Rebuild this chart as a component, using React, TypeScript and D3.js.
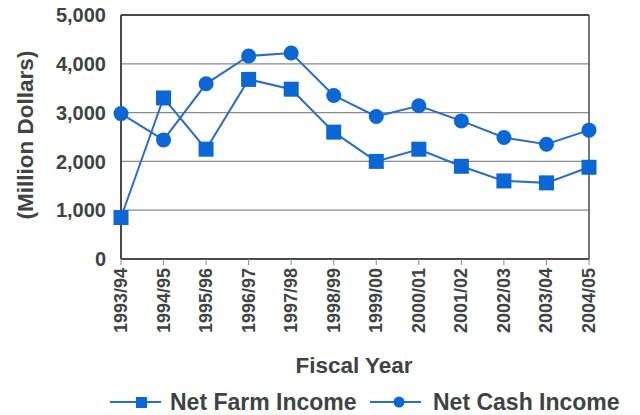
import React from "react";
import * as d3 from "d3";

const categories = ["1993/94","1994/95","1995/96","1996/97","1997/98","1998/99","1999/00","2000/01","2001/02","2002/03","2003/04","2004/05"];
const netFarmIncome = [850, 3300, 2250, 3680, 3480, 2600, 2000, 2250, 1900, 1600, 1560, 1880];
const netCashIncome = [2980, 2440, 3590, 4160, 4220, 3350, 2920, 3140, 2830, 2490, 2350, 2640];
const yTicks = [0, 1000, 2000, 3000, 4000, 5000];

const W = 640, H = 415;
const M = { left: 121, right: 589, top: 15, bottom: 259 };
const BLUE = "#0b66d6";
const LINE = "#2a6cc9";
const TEXT = "#3d4444";
const FONT = "'Liberation Sans', Arial, Helvetica, sans-serif";

export default function App() {
  const x = d3.scalePoint<string>().domain(categories).range([M.left, M.right]);
  const y = d3.scaleLinear().domain([0, 5000]).range([M.bottom, M.top]);
  const line = d3.line<number>().x((_, i) => x(categories[i])!).y(d => y(d));
  const fmt = d3.format(",");
  const sq = 15;

  return (
    <svg width={W} height={H} style={{ position: "absolute", left: 0, top: 0, display: "block", background: "#fff" }} fontFamily={FONT}>
      {/* gridlines */}
      {yTicks.map(t => (
        <line key={t} x1={M.left} x2={M.right} y1={y(t)} y2={y(t)} stroke={t === 0 || t === 5000 ? "#4a4a4a" : "#8a8a8a"} strokeWidth={t === 0 || t === 5000 ? 2 : 1.2} />
      ))}
      <line x1={M.left} x2={M.left} y1={M.top} y2={M.bottom} stroke="#4a4a4a" strokeWidth={2} />
      <line x1={M.right} x2={M.right} y1={M.top} y2={M.bottom} stroke="#4a4a4a" strokeWidth={1.5} />
      {/* x ticks */}
      {categories.map(c => (
        <line key={c} x1={x(c)} x2={x(c)} y1={M.bottom} y2={M.bottom + 6} stroke="#8a8a8a" strokeWidth={1} />
      ))}
      {/* y tick labels */}
      {yTicks.map(t => (
        <text key={t} x={106} y={y(t)} dy="0.36em" textAnchor="end" fontSize={20} fontWeight="bold" fill={TEXT}>{fmt(t)}</text>
      ))}
      {/* x tick labels */}
      {categories.map(c => (
        <text key={c} transform={`translate(${x(c)! + 6},${268}) rotate(-90)`} textAnchor="end" fontSize={18} fontWeight="bold" fill={TEXT}>{c}</text>
      ))}
      {/* axis titles */}
      <text transform={`translate(33,135) rotate(-90)`} textAnchor="middle" fontSize={22.5} fontWeight="bold" fill={TEXT}>(Million Dollars)</text>
      <text x={354} y={373} textAnchor="middle" fontSize={22.5} fontWeight="bold" fill={TEXT}>Fiscal Year</text>
      {/* series lines */}
      <path d={line(netFarmIncome)!} fill="none" stroke={LINE} strokeWidth={2} />
      <path d={line(netCashIncome)!} fill="none" stroke={LINE} strokeWidth={2} />
      {netFarmIncome.map((v, i) => (
        <rect key={i} x={x(categories[i])! - sq / 2} y={y(v) - sq / 2} width={sq} height={sq} fill={BLUE} />
      ))}
      {netCashIncome.map((v, i) => (
        <circle key={i} cx={x(categories[i])!} cy={y(v)} r={7.5} fill={BLUE} />
      ))}
      {/* legend */}
      <g>
        <line x1={110} x2={161} y1={402} y2={402} stroke={LINE} strokeWidth={2} />
        <rect x={136} y={397} width={11} height={11} fill={BLUE} />
        <text x={170} y={410} fontSize={23} fontWeight="bold" fill={TEXT}>Net Farm Income</text>
        <line x1={370} x2={421} y1={402} y2={402} stroke={LINE} strokeWidth={2} />
        <circle cx={399} cy={402} r={5.5} fill={BLUE} />
        <text x={433} y={410} fontSize={23} fontWeight="bold" fill={TEXT}>Net Cash Income</text>
      </g>
    </svg>
  );
}
